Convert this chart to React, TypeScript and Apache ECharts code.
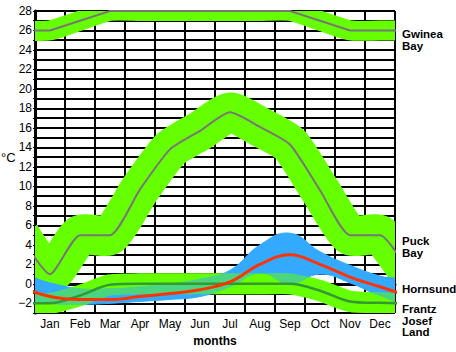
import React, { useEffect, useRef } from "react";
import * as echarts from "echarts";

const months = ["Jan", "Feb", "Mar", "Apr", "May", "Jun", "Jul", "Aug", "Sep", "Oct", "Nov", "Dec"];
const gwinea = [26, 27, 28, 28, 28, 28, 28, 28, 28, 27, 26, 26];
const puck = [1, 5, 5, 9.7, 13.8, 15.7, 17.6, 16.1, 14.3, 9.6, 5, 5];
const hornsund = [-1.3, -1.6, -1.6, -1.3, -1.0, -0.6, 0.2, 2.0, 3.0, 2.0, 0.7, -0.3];
const hornsundHigh = [0.1, -0.5, -0.5, -0.3, 0.0, 0.5, 1.4, 4.0, 5.2, 3.3, 1.9, 0.8];
const hornsundLow = [-2.0, -2.1, -2.0, -1.8, -1.6, -1.3, -0.3, 1.1, 0.0, 1.0, 0.1, -1.2];
const frantz = [-2.0, -1.2, -0.1, 0, 0, 0, 0, 0, 0, -0.7, -1.8, -1.95];

const GREEN = "#66ff00";
const BLUE = "#33aaff";
const FONT = "'Liberation Sans', Arial, sans-serif";

// month values placed at month centres, with wrap-around neighbours (cyclic year)
function cyc(arr: number[]) {
  const pts: number[][] = [[-0.5, arr[arr.length - 1]]];
  arr.forEach((v, i) => pts.push([i + 0.5, v]));
  pts.push([arr.length + 0.5, arr[0]]);
  return pts;
}

export default function App() {
  const ref = useRef<HTMLDivElement>(null);
  useEffect(() => {
    if (!ref.current) return;
    const chart = echarts.init(ref.current, null, { renderer: "svg" });

    // thick band drawn as a wide stroke following the series, clipped to the plot
    const bandLine = (name: string, data: number[], width: number, opacity = 1) => ({
      name,
      type: "custom",
      xAxisIndex: 1,
      data: cyc(data),
      encode: { x: 0, y: 1 },
      clip: true,
      silent: true,
      renderItem: (params: any, api: any) => {
        if (params.dataIndex !== 0) return null;
        const pts = cyc(data).map((p) => api.coord(p));
        return {
          type: "polyline",
          shape: { points: pts, smooth: 0.2 },
          style: { stroke: GREEN, lineWidth: width, fill: null, lineJoin: "round", opacity },
        };
      },
    });

    const rangeBand = {
      name: "Hornsund range",
      type: "custom",
      xAxisIndex: 1,
      data: cyc(hornsundHigh).concat(cyc(hornsundLow)),
      encode: { x: 0, y: 1 },
      clip: true,
      silent: true,
      renderItem: (params: any, api: any) => {
        if (params.dataIndex !== 0) return null;
        const up = cyc(hornsundHigh).map((p) => api.coord(p));
        const lo = cyc(hornsundLow).map((p) => api.coord(p)).reverse();
        return {
          type: "polygon",
          shape: { points: up.concat(lo), smooth: 0.45 },
          style: { fill: BLUE, stroke: BLUE, lineWidth: 1 },
        };
      },
    };

    const meanLine = (name: string, data: number[], color: string, width: number, smooth: number) => ({
      name,
      type: "line",
      xAxisIndex: 1,
      data: cyc(data),
      symbol: "none",
      smooth,
      silent: true,
      lineStyle: { color, width, join: "round" },
    });

    chart.setOption({
      animation: false,
      grid: { left: 35, right: 61, top: 11, bottom: 31 },
      xAxis: [
        {
          type: "category",
          data: months,
          boundaryGap: true,
          axisLine: { show: true, lineStyle: { color: "#000", width: 3 } },
          axisTick: { show: false },
          axisLabel: { color: "#000", fontSize: 12, fontFamily: FONT, margin: 5 },
          splitLine: { show: true, lineStyle: { color: "#000", width: 2 } },
          name: "months",
          nameLocation: "middle",
          nameGap: 19,
          nameTextStyle: { color: "#000", fontSize: 12, fontWeight: "bold", fontFamily: FONT },
        },
        { type: "value", min: 0, max: 12, show: false },
      ],
      yAxis: {
        type: "value",
        min: -3,
        max: 28,
        interval: 1,
        axisLine: { show: true, lineStyle: { color: "#000", width: 3 } },
        axisTick: { show: true, length: 2, lineStyle: { color: "#000", width: 1 } },
        axisLabel: {
          color: "#000",
          fontSize: 12,
          fontFamily: FONT,
          margin: 3,
          formatter: (v: number) => (v % 2 === 0 ? String(v).replace("-", "\u2212") : ""),
        },
        splitLine: { show: true, lineStyle: { color: "#000", width: 2 } },
      },
      series: [
        bandLine("Gwinea band", gwinea, 20),
        bandLine("Puck band", puck, 40),
        bandLine("Frantz band", frantz, 21),
        rangeBand,
        bandLine("Frantz band overlay", frantz, 21, 0.5),
        meanLine("Gwinea Bay", gwinea, "#777777", 2, 0),
        meanLine("Puck Bay", puck, "#777777", 2, 0.2),
        meanLine("Frantz Josef Land", frantz, "#339933", 2.5, 0.3),
        meanLine("Hornsund", hornsund, "#ff3300", 3, 0.4),
      ],
      graphic: [
        { type: "text", left: 1, top: 151, style: { text: "°C", fill: "#000", font: `13px ${FONT}` } },
        { type: "text", left: 402, top: 28, style: { text: "Gwinea\nBay", fill: "#000", font: `bold 11.5px ${FONT}`, lineHeight: 12 } },
        { type: "text", left: 402, top: 235, style: { text: "Puck\nBay", fill: "#000", font: `bold 11.5px ${FONT}`, lineHeight: 12 } },
        { type: "text", left: 402, top: 283, style: { text: "Hornsund", fill: "#000", font: `bold 11.5px ${FONT}` } },
        { type: "text", left: 402, top: 303, style: { text: "Frantz\nJosef\nLand", fill: "#000", font: `bold 11.5px ${FONT}`, lineHeight: 11.5 } },
      ],
    });
    return () => chart.dispose();
  }, []);
  return <div ref={ref} style={{ position: "absolute", left: 0, top: 0, width: 456, height: 352 }} />;
}
